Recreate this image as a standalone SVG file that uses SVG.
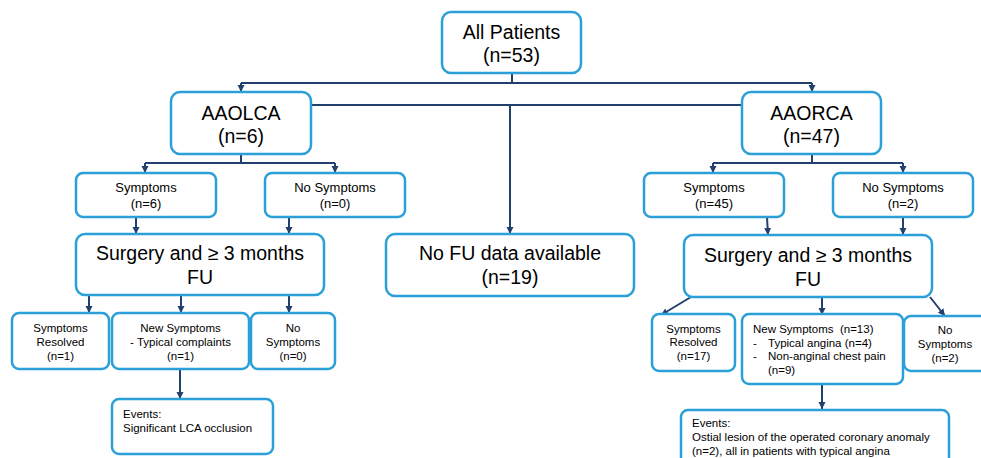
<svg xmlns="http://www.w3.org/2000/svg" width="981" height="458" viewBox="0 0 981 458">
<style>
.box{fill:#fff;stroke:#2b9fd8;stroke-width:2.5}
.t{font-family:"Liberation Sans",Arial,sans-serif;fill:#000}
.big{font-size:19.5px;text-anchor:middle}
.med{font-size:13px;text-anchor:middle}
.sm{font-size:11.5px;text-anchor:middle}
.sml{font-size:11.5px}
.c{fill:none;stroke:#22406e;stroke-width:2}
</style>
<defs>
<marker id="ah" markerUnits="userSpaceOnUse" markerWidth="8" markerHeight="8" refX="7" refY="4" orient="auto">
<path d="M0,0.5 L7,4 L0,7.5 Z" fill="#22406e"/>
</marker>
</defs>
<rect width="981" height="458" fill="#fff"/>
<g id="connectors">
<path class="c" d="M512 73 V83 M241 83 H812"/>
<path class="c" d="M241 83 V92" marker-end="url(#ah)"/>
<path class="c" d="M812 83 V92" marker-end="url(#ah)"/>
<path class="c" d="M311 105 H742"/>
<path class="c" d="M510 105 V234" marker-end="url(#ah)"/>
<path class="c" d="M241 154 V163 M145 163 H335"/>
<path class="c" d="M145 163 V173" marker-end="url(#ah)"/>
<path class="c" d="M335 163 V173" marker-end="url(#ah)"/>
<path class="c" d="M812 154 V163 M713 163 H903"/>
<path class="c" d="M713 163 V173" marker-end="url(#ah)"/>
<path class="c" d="M903 163 V173" marker-end="url(#ah)"/>
<path class="c" d="M136 217 V234" marker-end="url(#ah)"/>
<path class="c" d="M289 217 V234" marker-end="url(#ah)"/>
<path class="c" d="M767 217 L768 235" marker-end="url(#ah)"/>
<path class="c" d="M903 217 V235" marker-end="url(#ah)"/>
<path class="c" d="M89 295 V313" marker-end="url(#ah)"/>
<path class="c" d="M181 295 V313" marker-end="url(#ah)"/>
<path class="c" d="M289 295 V313" marker-end="url(#ah)"/>
<path class="c" d="M180 369 V399" marker-end="url(#ah)"/>
<path class="c" d="M691 297 L661 315" marker-end="url(#ah)"/>
<path class="c" d="M822 297 V315" marker-end="url(#ah)"/>
<path class="c" d="M930 297 L945 316" marker-end="url(#ah)"/>
<path class="c" d="M822 384 V409" marker-end="url(#ah)"/>
</g>
<g id="all">
<rect class="box" x="442" y="12" width="139" height="61" rx="9"/>
<text class="t big" x="511.5" y="38.5">All Patients</text>
<text class="t big" x="511.5" y="62">(n=53)</text>
</g>
<g id="aaolca">
<rect class="box" x="171" y="92" width="140" height="62" rx="9"/>
<text class="t big" x="241" y="119.5">AAOLCA</text>
<text class="t big" x="241" y="143">(n=6)</text>
</g>
<g id="aaorca">
<rect class="box" x="742" y="92" width="139" height="62" rx="9"/>
<text class="t big" x="811.5" y="119.5">AAORCA</text>
<text class="t big" x="811.5" y="143">(n=47)</text>
</g>
<g id="l-sym">
<rect class="box" x="76" y="173" width="140" height="44" rx="7"/>
<text class="t med" x="146" y="192">Symptoms</text>
<text class="t med" x="146" y="207.5">(n=6)</text>
</g>
<g id="l-nosym">
<rect class="box" x="265" y="173" width="140" height="44" rx="7"/>
<text class="t med" x="335" y="192">No Symptoms</text>
<text class="t med" x="335" y="207.5">(n=0)</text>
</g>
<g id="r-sym">
<rect class="box" x="644" y="173" width="140" height="44" rx="7"/>
<text class="t med" x="714" y="192">Symptoms</text>
<text class="t med" x="714" y="207.5">(n=45)</text>
</g>
<g id="r-nosym">
<rect class="box" x="833" y="173" width="140" height="44" rx="7"/>
<text class="t med" x="903" y="192">No Symptoms</text>
<text class="t med" x="903" y="207.5">(n=2)</text>
</g>
<g id="l-surg">
<rect class="box" x="76" y="234" width="248" height="61" rx="9"/>
<text class="t big" x="200" y="260">Surgery and ≥ 3 months</text>
<text class="t big" x="200" y="284">FU</text>
</g>
<g id="nofu">
<rect class="box" x="386" y="234" width="248" height="62" rx="9"/>
<text class="t big" x="510" y="260">No FU data available</text>
<text class="t big" x="510" y="284">(n=19)</text>
</g>
<g id="r-surg">
<rect class="box" x="684" y="235" width="248" height="62" rx="9"/>
<text class="t big" x="808" y="262">Surgery and ≥ 3 months</text>
<text class="t big" x="808" y="286">FU</text>
</g>
<g id="l-res">
<rect class="box" x="12" y="313" width="97" height="56" rx="7"/>
<text class="t sm" x="60.5" y="332">Symptoms</text>
<text class="t sm" x="60.5" y="345.5">Resolved</text>
<text class="t sm" x="60.5" y="359.5">(n=1)</text>
</g>
<g id="l-new">
<rect class="box" x="112" y="313" width="137" height="56" rx="7"/>
<text class="t sm" x="180.5" y="332">New Symptoms</text>
<text class="t sm" x="180.5" y="345.5">- Typical complaints</text>
<text class="t sm" x="180.5" y="359.5">(n=1)</text>
</g>
<g id="l-no">
<rect class="box" x="251" y="313" width="84" height="56" rx="7"/>
<text class="t sm" x="293" y="332">No</text>
<text class="t sm" x="293" y="345.5">Symptoms</text>
<text class="t sm" x="293" y="359.5">(n=0)</text>
</g>
<g id="l-events">
<rect class="box" x="112" y="399" width="161" height="55" rx="7"/>
<text class="t sml" x="123" y="417.5">Events:</text>
<text class="t sml" x="123" y="431.5">Significant LCA occlusion</text>
</g>
<g id="r-res">
<rect class="box" x="652" y="314" width="83" height="57" rx="7"/>
<text class="t sm" x="693.5" y="332.5">Symptoms</text>
<text class="t sm" x="693.5" y="346">Resolved</text>
<text class="t sm" x="693.5" y="360">(n=17)</text>
</g>
<g id="r-new">
<rect class="box" x="742" y="314" width="161" height="70" rx="7"/>
<text class="t sml" x="753" y="332.5">New Symptoms&#160; (n=13)</text>
<text class="t sml" x="753" y="346.5">-</text>
<text class="t sml" x="768" y="346.5">Typical angina (n=4)</text>
<text class="t sml" x="753" y="360">-</text>
<text class="t sml" x="768" y="360">Non-anginal chest pain</text>
<text class="t sml" x="768" y="374">(n=9)</text>
</g>
<g id="r-no">
<rect class="box" x="904" y="316" width="84" height="55" rx="7"/>
<text class="t sm" x="945" y="334">No</text>
<text class="t sm" x="945" y="348">Symptoms</text>
<text class="t sm" x="945" y="361.5">(n=2)</text>
</g>
<g id="r-events">
<rect class="box" x="681" y="410" width="268" height="60" rx="7"/>
<text class="t sml" x="692" y="427">Events:</text>
<text class="t sml" x="692" y="441">Ostial lesion of the operated coronary anomaly</text>
<text class="t sml" x="692" y="454.5">(n=2), all in patients with typical angina</text>
</g>
</svg>
